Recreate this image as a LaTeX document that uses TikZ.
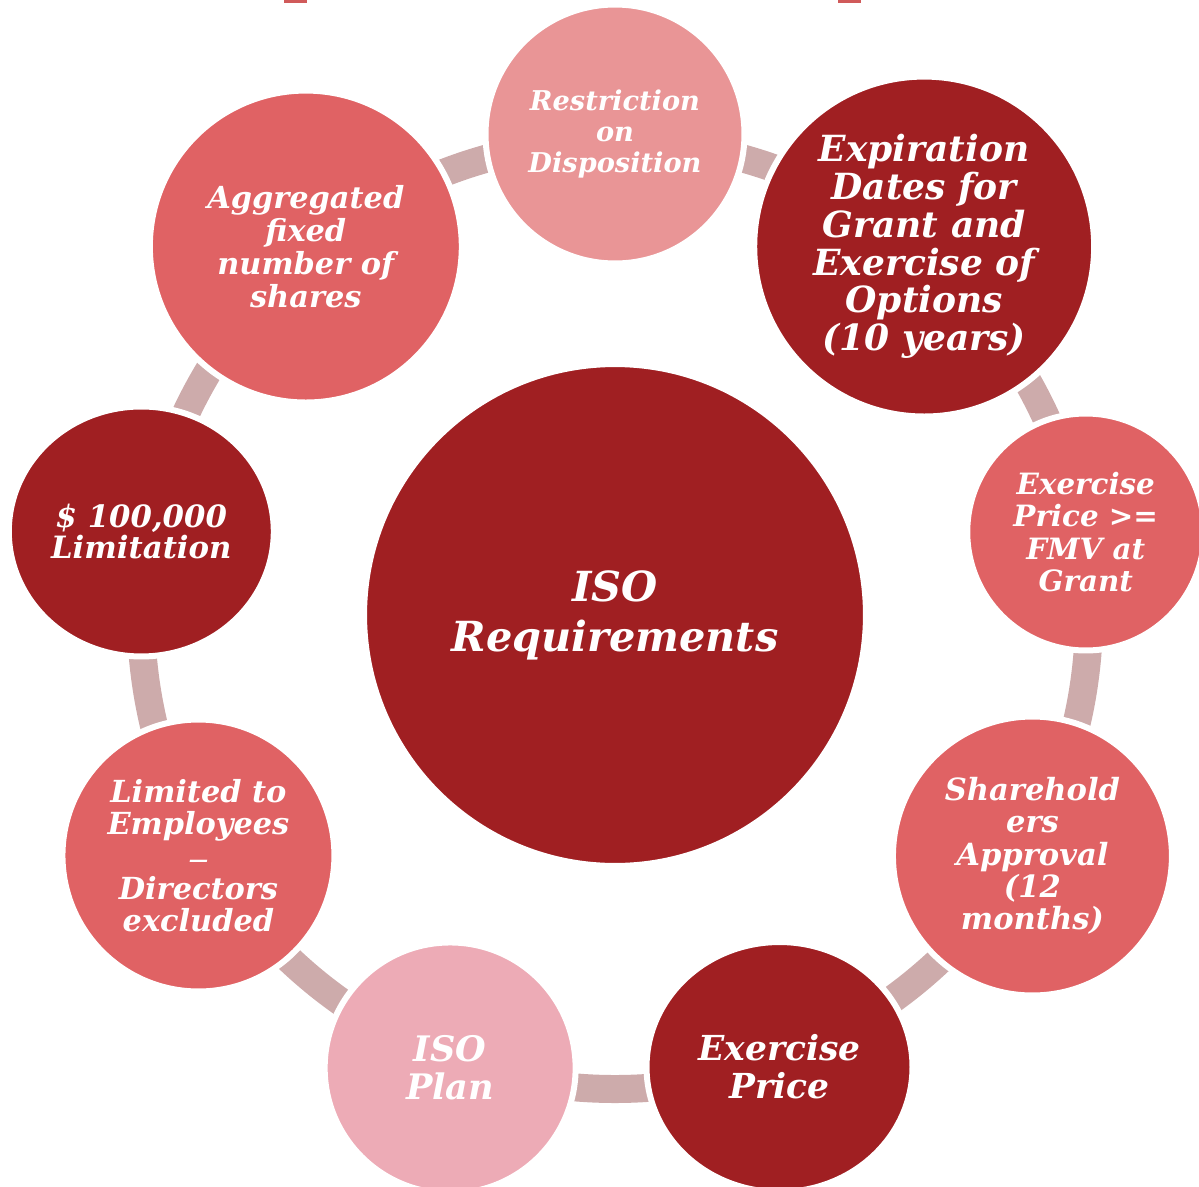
\documentclass[tikz,border=0pt]{standalone}
\usepackage{fontspec}
\setmainfont{DejaVu Serif}
\usetikzlibrary{shapes.geometric}

\definecolor{isodark}{HTML}{A01F22}
\definecolor{isomid}{HTML}{E06264}
\definecolor{isorose}{HTML}{E99596}
\definecolor{isopink}{HTML}{EDABB6}
\definecolor{isoring}{HTML}{CDABAB}
\definecolor{isomark}{HTML}{D05A5A}

\begin{document}
\begin{tikzpicture}[x=0.02cm,y=0.02cm,
  bubble/.style={circle,fill=#1,draw=white,line width=0.12cm,inner sep=0pt,text=white,align=center},
  oval/.style={ellipse,fill=#1,draw=white,line width=0.12cm,inner sep=0pt,text=white,align=center},
  lettering/.style 2 args={font=\fontsize{#1}{#2}\selectfont\bfseries\itshape},
  ring/.style={draw=isoring,line width=0.56cm}]
\useasboundingbox (0,0) rectangle (1199,-1186);
\clip (0,0) rectangle (1199,-1186);
\fill[isomark] (284,0) rectangle (307,-3);
\fill[isomark] (838,0) rectangle (861,-3);
\node[bubble=isodark,minimum size=10.04cm,lettering={23.6}{28.4}] (hub) at (615,-615) {ISO\\Requirements};
\draw[ring] (hub.center) circle[radius=474];
\node[bubble=isorose,minimum size=5.18cm,lettering={15.5}{17.6}] (restrict) at ([shift={(90:481)}]hub.center) {Restriction\\on\\Disposition};
\node[bubble=isodark,minimum size=6.80cm,lettering={20.5}{21.5}] (expiry) at ([shift={(50:481)}]hub.center) {Expiration\\Dates for\\Grant and\\Exercise of\\Options\\(10 years)};
\node[bubble=isomid,minimum size=4.74cm,lettering={16.7}{18.5}] (fmv) at ([shift={(10:478)}]hub.center) {Exercise\\Price >=\\FMV at\\Grant};
\node[bubble=isomid,minimum size=5.58cm,lettering={17.4}{18.4}] (approval) at ([shift={(-30:482)}]hub.center) {Sharehold\\ers\\Approval\\(12\\months)};
\node[oval=isodark,minimum width=5.32cm,minimum height=5.00cm,lettering={19.6}{21.5}] (price) at ([shift={(-70:481)}]hub.center) {Exercise\\Price};
\node[bubble=isopink,minimum size=5.02cm,lettering={20}{21.5}] (plan) at ([shift={(-110:482)}]hub.center) {ISO\\Plan};
\node[bubble=isomid,minimum size=5.44cm,lettering={17.3}{18.4}] (employees) at ([shift={(-150:481)}]hub.center) {Limited to\\Employees\\{\fontsize{11}{18.4}\selectfont —}\\Directors\\excluded};
\node[oval=isodark,minimum width=5.30cm,minimum height=5.00cm,lettering={17.5}{18.1}] (limit) at ([shift={(170:481)}]hub.center) {\$ 100,000\\Limitation};
\node[bubble=isomid,minimum size=6.24cm,lettering={17.3}{18.7}] (shares) at ([shift={(130:481)}]hub.center) {Aggregated\\fixed\\number of\\shares};
\end{tikzpicture}
\end{document}
